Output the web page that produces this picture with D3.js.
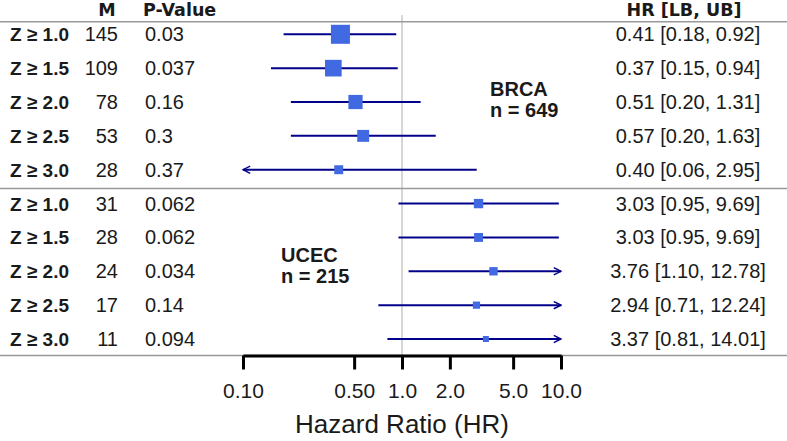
<!DOCTYPE html>
<html lang="en">
<head>
  <meta charset="UTF-8">
  <title>Hazard Ratio Forest Plot</title>
  <script src="https://d3js.org/d3.v7.min.js"></script>
  <style>
    body { margin: 0; background: #fff; }
    svg { display: block; }
  </style>
</head>
<body>
  <svg width="787" height="441"></svg>
  <script>
    // table values
    const cohorts = ["BRCA", "UCEC"];
    const cohortN = [649, 215];
    const zLabels = ["Z \u2265 1.0", "Z \u2265 1.5", "Z \u2265 2.0", "Z \u2265 2.5", "Z \u2265 3.0"];

    const brcaM = [145, 109, 78, 53, 28];
    const brcaP = ["0.03", "0.037", "0.16", "0.3", "0.37"];
    const brcaHR = [0.41, 0.37, 0.51, 0.57, 0.40];
    const brcaLB = [0.18, 0.15, 0.20, 0.20, 0.06];
    const brcaUB = [0.92, 0.94, 1.31, 1.63, 2.95];

    const ucecM = [31, 28, 24, 17, 11];
    const ucecP = ["0.062", "0.062", "0.034", "0.14", "0.094"];
    const ucecHR = [3.03, 3.03, 3.76, 2.94, 3.37];
    const ucecLB = [0.95, 0.95, 1.10, 0.71, 0.81];
    const ucecUB = [9.69, 9.69, 12.78, 12.24, 14.01];

    const axisTicks = [0.1, 0.5, 1, 2, 5, 10];
    const axisTickLabels = ["0.10", "0.50", "1.0", "2.0", "5.0", "10.0"];

    const rows = [];
    [[brcaM, brcaP, brcaHR, brcaLB, brcaUB], [ucecM, ucecP, ucecHR, ucecLB, ucecUB]]
      .forEach(([m, p, hr, lb, ub], g) => {
        zLabels.forEach((z, i) => {
          rows.push({ group: g, label: z, m: m[i], p: p[i], hr: hr[i], lb: lb[i], ub: ub[i] });
        });
      });

    const width = 787, height = 441;
    const svg = d3.select("svg");

    const x = d3.scaleLog().domain([0.1, 10]).range([243, 561]);
    const y = d3.scalePoint().domain(d3.range(rows.length)).range([34.3, 339]);
    const boxSize = d3.scaleSqrt().domain([11, 145]).range([6, 19]);
    const fmt = d3.format(".2f");

    const lineCol = "#00008b";
    const boxCol = "#4169e1";
    const textCol = "#1a1a1a";
    const sans = "'Liberation Sans', Arial, sans-serif";
    const wide = "'DejaVu Sans', Verdana, sans-serif";

    svg.append("defs").append("marker")
      .attr("id", "arrow")
      .attr("viewBox", "0 0 10 10")
      .attr("refX", 9).attr("refY", 5)
      .attr("markerWidth", 4.5).attr("markerHeight", 4.5)
      .attr("markerUnits", "strokeWidth")
      .attr("orient", "auto-start-reverse")
      .append("path")
      .attr("d", "M1,1 L9,5 L1,9")
      .attr("fill", "none")
      .attr("stroke", lineCol)
      .attr("stroke-width", 1.6);

    // reference line at HR = 1
    svg.append("line")
      .attr("x1", x(1)).attr("x2", x(1))
      .attr("y1", 15).attr("y2", 355)
      .attr("stroke", "#c8c8c8").attr("stroke-width", 1.5);

    // horizontal rules
    [21.7, 188.5, 355.5].forEach(yy => {
      svg.append("line")
        .attr("x1", 0).attr("x2", width)
        .attr("y1", yy).attr("y2", yy)
        .attr("stroke", "#999").attr("stroke-width", 1.5);
    });

    // headers
    const head = svg.append("g")
      .attr("font-family", wide).attr("font-weight", "bold")
      .attr("font-size", 17.5).attr("fill", textCol);
    head.append("text").attr("x", 107).attr("y", 16).attr("text-anchor", "middle").text("M");
    head.append("text").attr("x", 143).attr("y", 16).text("P-Value");
    head.append("text").attr("x", 684).attr("y", 16).attr("text-anchor", "middle").text("HR [LB, UB]");

    // table rows
    const row = svg.append("g").selectAll("g")
      .data(rows)
      .join("g")
      .attr("transform", (d, i) => `translate(0,${y(i)})`);

    row.append("text")
      .attr("x", 10).attr("y", 7)
      .attr("font-family", sans).attr("font-weight", "bold")
      .attr("font-size", 19).attr("fill", textCol)
      .text(d => d.label);

    row.append("text")
      .attr("x", 118).attr("y", 7).attr("text-anchor", "end")
      .attr("font-family", sans).attr("font-size", 20).attr("fill", textCol)
      .text(d => d.m);

    row.append("text")
      .attr("x", 145).attr("y", 7)
      .attr("font-family", sans).attr("font-size", 20).attr("fill", textCol)
      .text(d => d.p);

    row.append("text")
      .attr("x", 688).attr("y", 7).attr("text-anchor", "middle")
      .attr("font-family", sans).attr("font-size", 20).attr("fill", textCol)
      .text(d => `${fmt(d.hr)} [${fmt(d.lb)}, ${fmt(d.ub)}]`);

    // confidence intervals, clipped to the axis range with arrows
    const [lo, hi] = x.domain();
    row.append("line")
      .attr("x1", d => x(Math.max(d.lb, lo)))
      .attr("x2", d => x(Math.min(d.ub, hi)))
      .attr("y1", 0).attr("y2", 0)
      .attr("stroke", lineCol).attr("stroke-width", 2)
      .attr("marker-start", d => d.lb < lo ? "url(#arrow)" : null)
      .attr("marker-end", d => d.ub > hi ? "url(#arrow)" : null);

    row.append("rect")
      .attr("x", d => x(d.hr) - boxSize(d.m) / 2)
      .attr("y", d => -boxSize(d.m) / 2)
      .attr("width", d => boxSize(d.m))
      .attr("height", d => boxSize(d.m))
      .attr("fill", boxCol);

    // cohort labels, two lines each
    const cohortPos = [[490, 96], [281, 262]];
    cohorts.forEach((c, i) => {
      const g = svg.append("g")
        .attr("font-family", sans).attr("font-weight", "bold")
        .attr("font-size", 20).attr("fill", textCol);
      g.append("text").attr("x", cohortPos[i][0]).attr("y", cohortPos[i][1]).text(c);
      g.append("text").attr("x", cohortPos[i][0]).attr("y", cohortPos[i][1] + 21).text(`n = ${cohortN[i]}`);
    });

    // x axis
    const axisG = svg.append("g")
      .attr("transform", "translate(0,355.5)")
      .call(d3.axisBottom(x)
        .tickValues(axisTicks)
        .tickFormat((d, i) => axisTickLabels[i])
        .tickSize(14)
        .tickSizeOuter(0)
        .tickPadding(14));
    axisG.select(".domain").attr("stroke", "#000").attr("stroke-width", 3);
    axisG.selectAll(".tick line").attr("stroke", "#000").attr("stroke-width", 3);
    axisG.selectAll(".tick text")
      .attr("font-family", sans).attr("font-size", 21).attr("fill", textCol);

    svg.append("text")
      .attr("x", x(1)).attr("y", 433)
      .attr("text-anchor", "middle")
      .attr("font-family", sans).attr("font-size", 26).attr("fill", textCol)
      .text("Hazard Ratio (HR)");
  </script>
</body>
</html>
